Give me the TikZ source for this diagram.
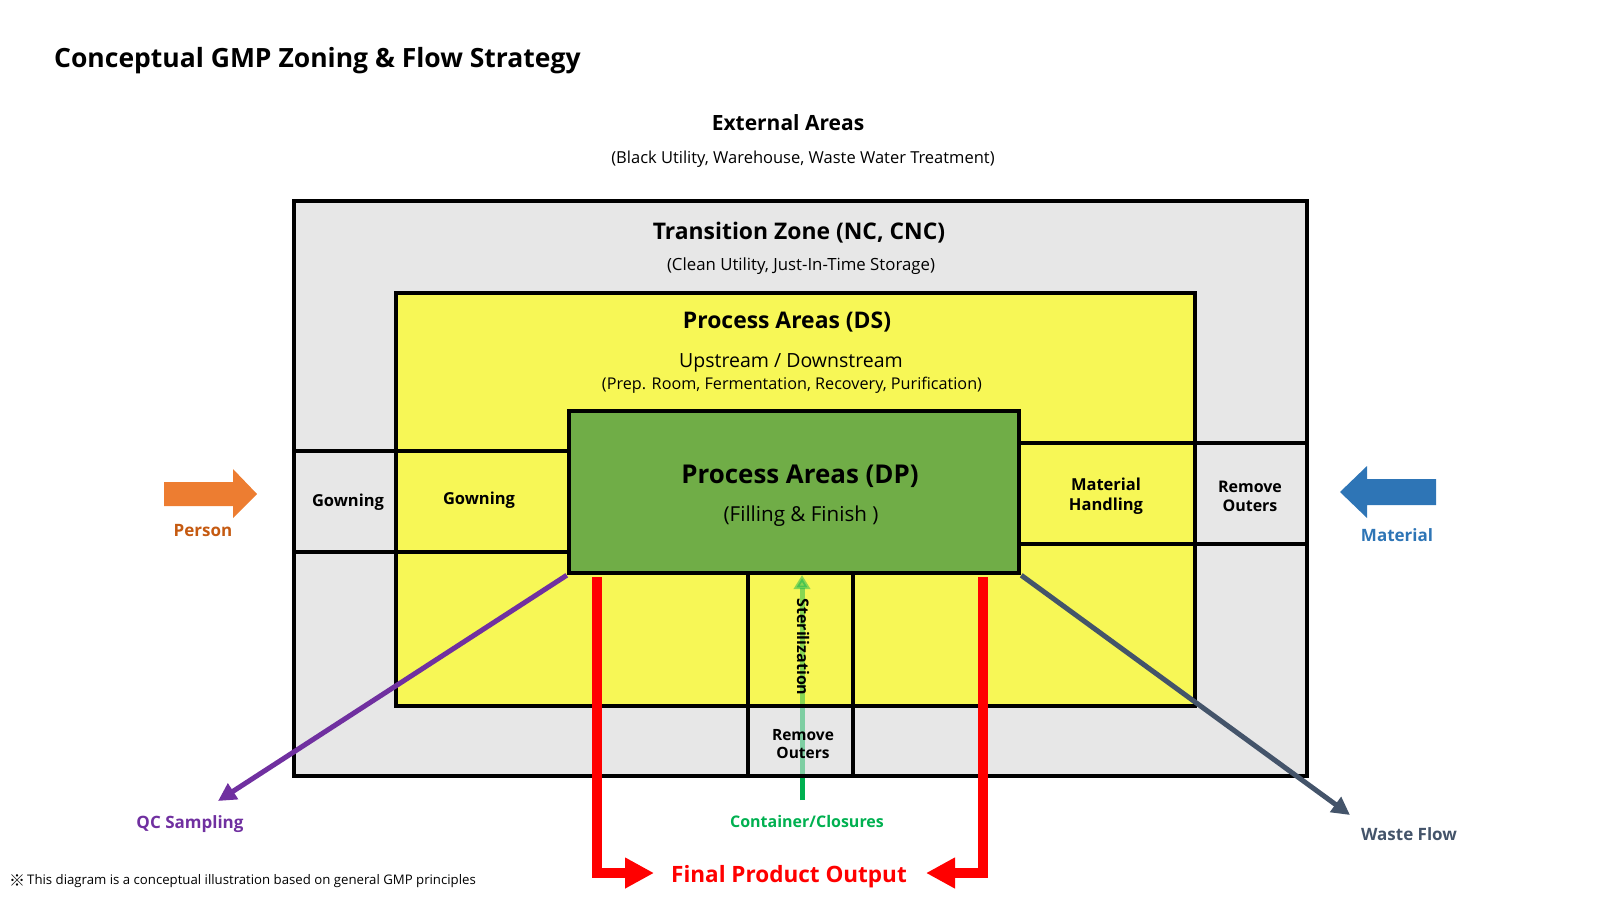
\documentclass[tikz,border=0pt]{standalone}
\usepackage{fontspec}
\setmainfont{Open Sans}
\newfontfamily\cjk{Noto Sans CJK KR}
\usetikzlibrary{arrows.meta}
\definecolor{zgrey}{HTML}{E7E7E7}
\definecolor{zyellow}{HTML}{F7F756}
\definecolor{zgreen}{HTML}{70AD47}
\definecolor{porange}{HTML}{ED7D31}
\definecolor{ptext}{HTML}{C55A11}
\definecolor{mblue}{HTML}{2E75B6}
\definecolor{qcpurple}{HTML}{7030A0}
\definecolor{cgreen}{HTML}{00B050}
\definecolor{wslate}{HTML}{44546A}
\definecolor{fred}{HTML}{FF0000}
\newcommand\fsz[2]{\fontsize{#1}{#2}\selectfont}
\begin{document}
\begin{tikzpicture}[x=1pt,y=-1pt,
  zoneline/.style={draw=black,line width=4.5pt},
  lbl/.style={inner sep=0pt,align=center},
  redflow/.style={draw=fred,line width=10pt,-{Triangle[length=29pt,width=29pt]}},
  thinflow/.style={line width=5pt,-{Triangle[length=18pt,width=18pt]}}]
\useasboundingbox (0,0) rectangle (1600,900);
% fills
\fill[zgrey] (294,201) rectangle (1307,776);
\fill[zyellow] (396,293) rectangle (1195,706);
\fill[zyellow] (396,451) rectangle (569,552);
\fill[zgrey] (294,451) rectangle (396,552);
\fill[zyellow] (1019,443) rectangle (1195,544);
\fill[zgrey] (1195,443) rectangle (1307,544);
\fill[zgrey] (748,706) rectangle (853,776);
% sterilization flow (seen through the zones)
\coordinate (cstart) at (802,800);
\coordinate (cin) at (802,776);
\draw[cgreen,line width=5pt] (cstart) -- (cin);
\draw[cgreen,opacity=0.45,line width=5pt,-{Triangle[length=14pt,width=16pt]}] (cin) -- (802,575);
% borders
\draw[zoneline] (294,201) rectangle (1307,776);
\draw[zoneline] (396,293) rectangle (1195,706);
\draw[zoneline] (294,451) rectangle (396,552);
\draw[zoneline] (396,451) rectangle (569,552);
\draw[zoneline] (1019,443) rectangle (1195,544);
\draw[zoneline] (1195,443) rectangle (1307,544);
\draw[zoneline] (748,573) rectangle (853,706);
\draw[zoneline] (748,706) rectangle (853,776);
\node[zoneline,fill=zgreen,minimum width=450pt,minimum height=162pt,inner sep=0pt] (dp) at (794,492) {};
% texts
\node[lbl,anchor=west,font=\fsz{26.5}{31}\bfseries] (title) at (54,61) {Conceptual GMP Zoning \& Flow Strategy};
\node[lbl,font=\fsz{21}{25}\bfseries] (ext) at (788,123) {External Areas};
\node[lbl,font=\fsz{16.5}{19}] (extsub) at (803,159) {(Black Utility, Warehouse, Waste Water Treatment)};
\node[lbl,font=\fsz{22.9}{27}\bfseries] (trans) at (799,233) {Transition Zone (NC, CNC)};
\node[lbl,font=\fsz{16.8}{19}] (transsub) at (801,266) {(Clean Utility, Just-In-Time Storage)};
\node[lbl,font=\fsz{22.9}{27}\bfseries] (ds) at (787,322) {Process Areas (DS)};
\node[lbl,font=\fsz{19.5}{23}] (dsup) at (791,363) {Upstream / Downstream};
\node[lbl,font=\fsz{16.2}{19}] (dssub) at (792,385) {(Prep. Room, Fermentation, Recovery, Purification)};
\node[lbl,font=\fsz{25.9}{30}\bfseries] (dptitle) at (800,476) {Process Areas (DP)};
\node[lbl,font=\fsz{20.6}{24}] (dpsub) at (801,516) {(Filling \& Finish )};
\node[lbl,font=\fsz{16.5}{19.5}\bfseries] (gown1) at (348,502) {Gowning};
\node[lbl,font=\fsz{16.5}{19.5}\bfseries] (gown2) at (479,500) {Gowning};
\node[lbl,font=\fsz{16.5}{19.5}\bfseries] (mh) at (1106,496) {Material\\Handling};
\node[lbl,font=\fsz{16}{19}\bfseries] (ro1) at (1250,496) {Remove\\Outers};
\node[lbl,font=\fsz{16}{19}\bfseries,rotate=-90] (ster) at (803,647) {Sterilization};
\node[lbl,font=\fsz{15.5}{18.5}\bfseries] (ro2) at (803,744) {Remove\\Outers};
% person / material arrows
\fill[porange] (164,482) -- (233,482) -- (233,469) -- (257,494) -- (233,518) -- (233,506) -- (164,506) -- cycle;
\node[lbl,font=\fsz{17}{20}\bfseries,text=ptext] (person) at (203,531) {Person};
\fill[mblue] (1436,479) -- (1367,479) -- (1367,466) -- (1340,492) -- (1367,518) -- (1367,505) -- (1436,505) -- cycle;
\node[lbl,font=\fsz{17}{20}\bfseries,text=mblue] (material) at (1397,535) {Material};
% output flows
\node[lbl,font=\fsz{22.5}{27}\bfseries,text=fred] (final) at (789,877) {Final Product Output};
\coordinate (fl) at (654,873);
\coordinate (fr) at (926,873);
\draw[redflow] (dp.south west -| 597,0) ++(0,2) |- (fl);
\draw[redflow] (dp.south west -| 983,0) ++(0,2) |- (fr);
\coordinate (qctip) at (218,801);
\draw[thinflow,draw=qcpurple] (dp.south west) -- (qctip);
\node[lbl,font=\fsz{17}{20}\bfseries,text=qcpurple] (qc) at (190,824) {QC Sampling};
\coordinate (wtip) at (1350,815);
\draw[thinflow,draw=wslate] (dp.south east) -- (wtip);
\node[lbl,font=\fsz{17}{20}\bfseries,text=wslate] (waste) at (1409,834) {Waste Flow};
\node[lbl,font=\fsz{16}{19}\bfseries,text=cgreen] (cont) at (807,821) {Container/Closures};
\node[lbl,anchor=west,font=\fsz{13.2}{16}] (foot) at (9,881) {\raisebox{-2.5pt}{\cjk\fsz{16}{16}※}\hspace{2pt}This diagram is a conceptual illustration based on general GMP principles};
\end{tikzpicture}
\end{document}
